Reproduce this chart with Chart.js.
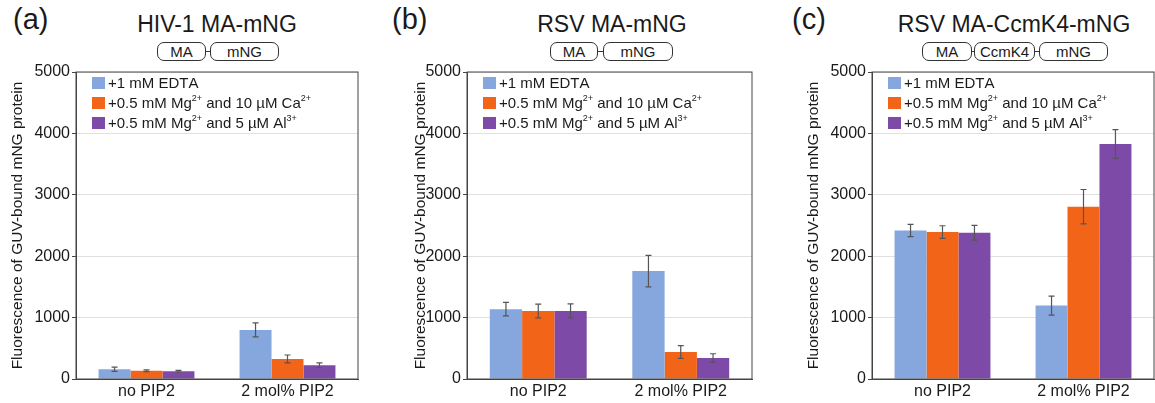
<!DOCTYPE html>
<html>
<head>
<meta charset="utf-8">
<script src="https://cdn.jsdelivr.net/npm/chart.js@4.4.1/dist/chart.umd.min.js"></script>
<style>
  body { margin: 0; background: #fff; font-family: "Liberation Sans", Arial, sans-serif; color: #1a1a1a; }
  #page { position: relative; width: 1155px; height: 403px; overflow: hidden; }
  .panel { position: absolute; top: 0; height: 403px; }
  .tag { position: absolute; top: 5px; font-size: 29px; line-height: 29px; }
  .title { position: absolute; top: 13px; font-size: 23px; line-height: 23px; transform: translateX(-50%); white-space: nowrap; }
  .dom { position: absolute; top: 42px; height: 17px; border: 1px solid #333; border-radius: 7px;
         font-size: 15px; line-height: 17px; text-align: center; background: #fff; }
  .link { position: absolute; top: 51px; height: 1px; background: #333; }
</style>
</head>
<body>
<div id="page">
  <div class="tag" style="left:13px">(a)</div>
  <div class="tag" style="left:392px">(b)</div>
  <div class="tag" style="left:792px">(c)</div>

  <div class="title" style="left:217px">HIV-1 MA-mNG</div>
  <div class="title" style="left:612px">RSV MA-mNG</div>
  <div class="title" style="left:1014px">RSV MA-CcmK4-mNG</div>

  <div class="link" style="left:204px;width:8px"></div>
  <div class="dom" style="left:157px;width:47px">MA</div>
  <div class="dom" style="left:210px;width:67px">mNG</div>

  <div class="link" style="left:596px;width:9px"></div>
  <div class="dom" style="left:550px;width:46px">MA</div>
  <div class="dom" style="left:603px;width:68px">mNG</div>

  <div class="link" style="left:970px;width:6px"></div>
  <div class="link" style="left:1033px;width:8px"></div>
  <div class="dom" style="left:922px;width:48px">MA</div>
  <div class="dom" style="left:974px;width:59px">CcmK4</div>
  <div class="dom" style="left:1039px;width:67px">mNG</div>

  <div class="panel" style="left:0px;width:385px"><canvas id="chartA"></canvas></div>
  <div class="panel" style="left:391px;width:388px"><canvas id="chartB"></canvas></div>
  <div class="panel" style="left:796px;width:359px"><canvas id="chartC"></canvas></div>
</div>

<script>
const categories = ["no PIP2", "2 mol% PIP2"];
const conditions = ["+1 mM EDTA", "+0.5 mM Mg²⁺ and 10 µM Ca²⁺", "+0.5 mM Mg²⁺ and 5 µM Al³⁺"];
const colors = ["#85a7dd", "#f26519", "#7e4aa8"];
const yLabel = "Fluorescence of GUV-bound mNG protein";

// (a) HIV-1 MA-mNG
const hivEdta = [160, 800];
const hivCa = [135, 326];
const hivAl = [125, 223];
const hivEdtaErr = [35, 115];
const hivCaErr = [15, 65];
const hivAlErr = [15, 40];

// (b) RSV MA-mNG
const rsvEdta = [1137, 1757];
const rsvCa = [1109, 440];
const rsvAl = [1109, 343];
const rsvEdtaErr = [110, 257];
const rsvCaErr = [112, 103];
const rsvAlErr = [115, 68];

// (c) RSV MA-CcmK4-mNG
const ccmEdta = [2419, 1196];
const ccmCa = [2393, 2806];
const ccmAl = [2382, 3828];
const ccmEdtaErr = [100, 155];
const ccmCaErr = [103, 280];
const ccmAlErr = [120, 235];

const SUP = { "²": "2", "³": "3", "⁺": "+" };

// text with superscripts drawn small and raised
const drawRich = (ctx, text, x, y) => {
  let cx = x;
  for (const ch of text) {
    if (SUP[ch]) {
      ctx.font = '9px "Liberation Sans", Arial, sans-serif';
      ctx.fillText(SUP[ch], cx, y - 5);
      cx += ctx.measureText(SUP[ch]).width;
    } else {
      ctx.font = '15px "Liberation Sans", Arial, sans-serif';
      ctx.fillText(ch, cx, y);
      cx += ctx.measureText(ch).width;
    }
  }
}

const boxLegend = {
  id: "boxLegend",
  afterDraw(chart) {
    const ctx = chart.ctx;
    const { left, top } = chart.chartArea;
    ctx.save();
    ctx.textBaseline = "middle";
    chart.data.datasets.forEach((ds, i) => {
      const y = top + 11 + i * 20;
      ctx.fillStyle = ds.backgroundColor;
      ctx.fillRect(left + 16, y - 6, 13, 12);
      ctx.fillStyle = "#1a1a1a";
      drawRich(ctx, ds.label, left + 32, y + 1);
    });
    ctx.restore();
  }
}

const errorBars = {
  id: "errorBars",
  afterDatasetsDraw(chart) {
    const ctx = chart.ctx;
    const y = chart.scales.y;
    ctx.save();
    ctx.strokeStyle = "#555";
    ctx.lineWidth = 1.2;
    chart.data.datasets.forEach((ds, i) => {
      chart.getDatasetMeta(i).data.forEach((bar, j) => {
        const v = ds.data[j], e = ds.errors[j];
        const y1 = y.getPixelForValue(v + e);
        const y2 = y.getPixelForValue(v - e);
        ctx.beginPath();
        ctx.moveTo(bar.x, y1); ctx.lineTo(bar.x, y2);
        ctx.moveTo(bar.x - 3, y1); ctx.lineTo(bar.x + 3, y1);
        ctx.moveTo(bar.x - 3, y2); ctx.lineTo(bar.x + 3, y2);
        ctx.stroke();
      });
    });
    ctx.restore();
  }
}

const frame = {
  id: "frame",
  afterDraw(chart) {
    const { left, top, right, bottom } = chart.chartArea;
    const ctx = chart.ctx;
    ctx.save();
    ctx.strokeStyle = "#444";
    ctx.lineWidth = 1;
    ctx.strokeRect(left, top, right - left, bottom - top);
    ctx.restore();
  }
}

const make_panel = (id, series, errs, rightPad, titlePad) => {
  new Chart(document.getElementById(id), {
    type: "bar",
    data: {
      labels: categories,
      datasets: series.map((s, i) => ({
        label: conditions[i],
        data: s,
        errors: errs[i],
        backgroundColor: colors[i],
        categoryPercentage: 0.68,
        barPercentage: 1.0
      }))
    },
    options: {
      responsive: true,
      maintainAspectRatio: false,
      animation: false,
      layout: { padding: { top: 72, right: rightPad, left: 0, bottom: 0 } },
      plugins: { legend: { display: false }, tooltip: { enabled: false } },
      scales: {
        x: {
          grid: { display: false, drawTicks: false },
          border: { color: "#444" },
          ticks: { color: "#1a1a1a", padding: 3, font: { size: 16, family: "Liberation Sans" } },
          afterFit: (s) => { s.height = 24; }
        },
        y: {
          min: 0,
          max: 5000,
          grid: { color: "#e0e0e0", tickColor: "#444", tickLength: 4 },
          border: { color: "#444" },
          ticks: {
            stepSize: 1000,
            color: "#1a1a1a",
            padding: 2,
            font: { size: 16, family: "Liberation Sans" },
            callback: (v) => String(v)
          },
          title: {
            display: true,
            text: yLabel,
            color: "#1a1a1a",
            padding: { top: titlePad, bottom: 0 },
            font: { size: 15.5, family: "Liberation Sans" }
          },
          afterFit: (s) => { s.width = 76; }
        }
      }
    },
    plugins: [errorBars, frame, boxLegend]
  });
}

make_panel("chartA", [hivEdta, hivCa, hivAl], [hivEdtaErr, hivCaErr, hivAlErr], 27, 8);
make_panel("chartB", [rsvEdta, rsvCa, rsvAl], [rsvEdtaErr, rsvCaErr, rsvAlErr], 27, 20);
make_panel("chartC", [ccmEdta, ccmCa, ccmAl], [ccmEdtaErr, ccmCaErr, ccmAlErr], 1, 8);
</script>
</body>
</html>
